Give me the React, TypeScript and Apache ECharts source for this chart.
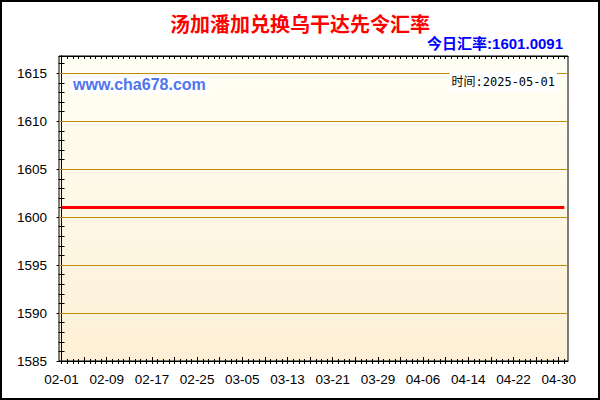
import React, { useEffect, useRef } from "react";
import * as echarts from "echarts";

const TITLE = "汤加潘加兑换乌干达先令汇率";
const TODAY_TEXT = "今日汇率:1601.0091";
const SITE_TEXT = "www.cha678.com";
const TIME_TEXT = "时间:2025-05-01";

const xTickLabels = ["02-01", "02-09", "02-17", "02-25", "03-05", "03-13", "03-21", "03-29", "04-06", "04-14", "04-22", "04-30"];
const xTickDays = [0, 8, 16, 24, 32, 40, 48, 56, 64, 72, 80, 88];
const xMidTickDays = [0, 4, 8, 12, 16, 20, 24, 28, 32, 36, 40, 44, 48, 52, 56, 60, 64, 68, 72, 76, 80, 84, 88];
const yTickLabels = [1585, 1590, 1595, 1600, 1605, 1610, 1615];
const yGridValues = [1590, 1595, 1600, 1605, 1610, 1615];
const yMinorTicks = [1585, 1586, 1587, 1588, 1589, 1590, 1591, 1592, 1593, 1594, 1595, 1596, 1597, 1598, 1599, 1600, 1601, 1602, 1603, 1604, 1605, 1606, 1607, 1608, 1609, 1610, 1611, 1612, 1613, 1614, 1615, 1616];

// daily rates 02-01 .. 05-01 (90 days)
const rates = [
  1601.0091, 1601.0091, 1601.0091, 1601.0091, 1601.0091, 1601.0091, 1601.0091, 1601.0091, 1601.0091, 1601.0091,
  1601.0091, 1601.0091, 1601.0091, 1601.0091, 1601.0091, 1601.0091, 1601.0091, 1601.0091, 1601.0091, 1601.0091,
  1601.0091, 1601.0091, 1601.0091, 1601.0091, 1601.0091, 1601.0091, 1601.0091, 1601.0091, 1601.0091, 1601.0091,
  1601.0091, 1601.0091, 1601.0091, 1601.0091, 1601.0091, 1601.0091, 1601.0091, 1601.0091, 1601.0091, 1601.0091,
  1601.0091, 1601.0091, 1601.0091, 1601.0091, 1601.0091, 1601.0091, 1601.0091, 1601.0091, 1601.0091, 1601.0091,
  1601.0091, 1601.0091, 1601.0091, 1601.0091, 1601.0091, 1601.0091, 1601.0091, 1601.0091, 1601.0091, 1601.0091,
  1601.0091, 1601.0091, 1601.0091, 1601.0091, 1601.0091, 1601.0091, 1601.0091, 1601.0091, 1601.0091, 1601.0091,
  1601.0091, 1601.0091, 1601.0091, 1601.0091, 1601.0091, 1601.0091, 1601.0091, 1601.0091, 1601.0091, 1601.0091,
  1601.0091, 1601.0091, 1601.0091, 1601.0091, 1601.0091, 1601.0091, 1601.0091, 1601.0091, 1601.0091, 1601.0091,
];

export default function App() {
  const ref = useRef<HTMLDivElement>(null);

  useEffect(() => {
    if (!ref.current) return;
    const chart = echarts.init(ref.current, undefined, { renderer: "svg" });

    const dailyTicks = rates.map((_, i) => i);
    const X_MIN = -0.45;
    const X_MAX = 89.65;
    const Y_MIN = 1585;
    const Y_MAX = 1616.8;
    const labelFont = "'Liberation Sans', Arial, sans-serif";
    const gridGold = "#c08a0a";

    const xBase = (extra: any) => ({
      type: "value",
      min: X_MIN,
      max: X_MAX,
      splitLine: { show: false },
      axisLabel: { show: false },
      axisLine: { show: false },
      ...extra,
    });
    const yBase = (extra: any) => ({
      type: "value",
      min: Y_MIN,
      max: Y_MAX,
      interval: 5,
      splitLine: { show: false },
      axisLabel: { show: false },
      axisLine: { show: false },
      ...extra,
    });

    chart.setOption({
      animation: false,
      backgroundColor: "#ffffff",
      grid: {
        left: 59,
        top: 56,
        width: 509,
        height: 305,
        show: true,
        borderColor: "#000",
        borderWidth: 1,
        backgroundColor: new echarts.graphic.LinearGradient(0, 0, 0, 1, [
          { offset: 0, color: "#fffff4" },
          { offset: 1, color: "#fdf0d6" },
        ]),
      },
      xAxis: [
        xBase({
          position: "bottom",
          axisLine: { show: true, lineStyle: { color: "#000", width: 1 } },
          axisTick: { show: true, inside: false, length: 3, customValues: dailyTicks, lineStyle: { color: "#000" } },
          axisLabel: {
            show: true,
            customValues: xTickDays,
            margin: 11,
            color: "#000",
            fontSize: 13.5,
            fontFamily: labelFont,
            formatter: (v: number) => xTickLabels[xTickDays.indexOf(Math.round(v))] ?? "",
          },
        }),
        xBase({
          position: "bottom",
          axisTick: { show: true, inside: true, length: 2, customValues: dailyTicks, lineStyle: { color: "#000" } },
        }),
        xBase({
          position: "bottom",
          axisTick: { show: true, inside: true, length: 4, customValues: xMidTickDays, lineStyle: { color: "#000" } },
        }),
        xBase({
          position: "top",
          axisLine: { show: true, lineStyle: { color: "#000", width: 1 } },
          axisTick: { show: true, inside: true, length: 3, customValues: dailyTicks, lineStyle: { color: "#000" } },
        }),
      ],
      yAxis: [
        yBase({
          position: "left",
          axisLine: { show: true, lineStyle: { color: "#000", width: 1 } },
          axisTick: { show: true, inside: false, length: 5, customValues: yTickLabels, lineStyle: { color: "#000" } },
          axisLabel: {
            show: true,
            customValues: yTickLabels,
            margin: 12,
            color: "#000",
            fontSize: 13.5,
            fontFamily: labelFont,
            formatter: (v: number) => String(Math.round(v)),
          },
        }),
        yBase({
          position: "left",
          axisTick: { show: true, inside: false, length: 2, customValues: yMinorTicks, lineStyle: { color: "#000" } },
        }),
        yBase({
          position: "left",
          axisTick: { show: true, inside: true, length: 3, customValues: yMinorTicks, lineStyle: { color: "#000" } },
        }),
        yBase({
          position: "right",
          axisLine: { show: true, lineStyle: { color: "#000", width: 1 } },
          axisTick: { show: true, inside: true, length: 3, customValues: yMinorTicks, lineStyle: { color: "#000" } },
        }),
      ],
      series: [
        {
          type: "line",
          xAxisIndex: 0,
          yAxisIndex: 0,
          data: rates.map((v, i) => [i, v]),
          showSymbol: false,
          lineStyle: { color: "#ff0000", width: 3 },
          itemStyle: { color: "#ff0000" },
          z: 5,
          markLine: {
            silent: true,
            symbol: ["none", "none"],
            label: { show: false },
            lineStyle: { color: gridGold, width: 1, type: "solid", opacity: 1 },
            emphasis: { disabled: true },
            data: yGridValues.map((v) => ({ yAxis: v })),
            z: 1,
          },
        },
      ],
      graphic: [
        {
          type: "rect",
          shape: { x: 1, y: 1, width: 598, height: 398 },
          style: { fill: "none", stroke: "#000", lineWidth: 2 },
          z: 100,
        },
        {
          type: "text",
          x: 300,
          y: 23,
          style: {
            text: TITLE,
            fill: "#ff0000",
            fontSize: 20,
            fontWeight: "bold",
            fontFamily: "'Noto Sans CJK SC', sans-serif",
            textAlign: "center",
            textVerticalAlign: "middle",
          },
          z: 100,
        },
        {
          type: "text",
          x: 563,
          y: 43,
          style: {
            text: TODAY_TEXT,
            fill: "#0000ff",
            fontSize: 15,
            fontWeight: "bold",
            fontFamily: "'Liberation Sans', 'Noto Sans CJK SC', sans-serif",
            textAlign: "right",
            textVerticalAlign: "middle",
          },
          z: 100,
        },
        {
          type: "text",
          x: 70,
          y: 84.5,
          style: {
            text: SITE_TEXT,
            fill: "#5074f0",
            fontSize: 16,
            fontWeight: "bold",
            fontFamily: "'Liberation Sans', Arial, sans-serif",
            textAlign: "left",
            textVerticalAlign: "middle",
            backgroundColor: "#ffffff",
            padding: [1, 3, 1, 3],
          },
          z: 100,
        },
        {
          type: "text",
          x: 557,
          y: 82,
          style: {
            text: TIME_TEXT,
            fill: "#000",
            fontSize: 12,
            fontFamily: "'DejaVu Sans Mono', 'Noto Sans CJK SC', monospace",
            textAlign: "right",
            textVerticalAlign: "middle",
            backgroundColor: "#ffffff",
            padding: [4, 2, 4, 2],
          },
          z: 100,
        },
      ],
    });

    return () => chart.dispose();
  }, []);

  return (
    <div
      ref={ref}
      style={{ position: "absolute", left: 0, top: 0, width: 600, height: 400 }}
    />
  );
}
